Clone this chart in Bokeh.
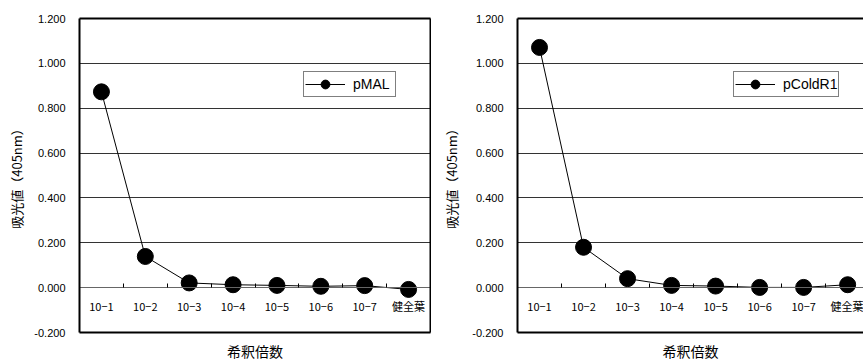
from bokeh.plotting import figure
from bokeh.models import FixedTicker, LinearAxis, Range1d, Legend, LegendItem
from bokeh.layouts import row
from bokeh.embed import file_html
from bokeh.resources import INLINE

categories = ["10−1", "10−2", "10−3", "10−4", "10−5", "10−6", "10−7", "健全葉"]
pmal = [0.873, 0.139, 0.021, 0.013, 0.010, 0.006, 0.009, -0.008]
pcoldr1 = [1.071, 0.180, 0.040, 0.010, 0.007, 0.001, 0.001, 0.013]
yticks = [-0.2, 0.0, 0.2, 0.4, 0.6, 0.8, 1.0, 1.2]
ytick_labels = ["-0.200", "0.000", "0.200", "0.400", "0.600", "0.800", "1.000", "1.200"]
y_title = "吸光値（405nm）"
x_title = "希釈倍数"

NUM_FONT = "Liberation Sans"
JP_FONT = "Noto Sans CJK JP"


def border_axis(label=None):
    ax = LinearAxis(ticker=FixedTicker(ticks=[]), axis_line_width=2, axis_line_color="black",
                    major_tick_in=0, major_tick_out=0, minor_tick_in=0, minor_tick_out=0,
                    major_label_text_font_size="0px", major_label_standoff=0)
    if label:
        ax.axis_label = label
        ax.axis_label_standoff = 8
        ax.axis_label_text_font = JP_FONT
        ax.axis_label_text_font_size = "14px"
        ax.axis_label_text_font_style = "normal"
        ax.axis_label_text_color = "black"
    return ax


def make(values, name, width, bl, br, x_end, legend_x, ystand, right_border):
    xs = list(range(1, len(categories) + 1))
    p = figure(width=width, height=363, x_range=Range1d(0.5, x_end),
               y_range=Range1d(yticks[0], yticks[-1]),
               output_backend="svg", toolbar_location=None,
               min_border_left=bl, min_border_right=br, min_border_top=18, min_border_bottom=30)
    p.outline_line_color = None

    yt = FixedTicker(ticks=yticks)
    ya = p.yaxis[0]
    ya.ticker = yt
    ya.major_label_overrides = dict(zip(yticks, ytick_labels))
    ya.major_tick_in = 0
    ya.major_tick_out = 0
    ya.minor_tick_in = 0
    ya.minor_tick_out = 0
    ya.major_label_standoff = 14
    ya.major_label_text_font = NUM_FONT
    ya.major_label_text_font_size = "11px"
    ya.major_label_text_color = "black"
    ya.axis_line_width = 2
    ya.axis_line_color = "black"
    ya.axis_label = y_title
    ya.axis_label_text_font = JP_FONT
    ya.axis_label_text_font_size = "13px"
    ya.axis_label_text_font_style = "normal"
    ya.axis_label_text_color = "black"
    ya.axis_label_standoff = ystand

    p.ygrid.ticker = yt
    p.ygrid.grid_line_color = "#333333"
    p.xgrid.visible = False

    xa = p.xaxis[0]
    xa.fixed_location = 0
    xa.ticker = FixedTicker(ticks=xs, minor_ticks=[x + 0.5 for x in xs[:-1]])
    xa.major_label_overrides = dict(zip(xs, categories))
    xa.major_tick_in = 0
    xa.major_tick_out = 0
    xa.minor_tick_in = 4
    xa.minor_tick_out = 0
    xa.minor_tick_line_color = "black"
    xa.axis_line_color = "#666666"
    xa.axis_line_width = 1
    xa.major_label_standoff = 10
    xa.major_label_text_font = JP_FONT
    xa.major_label_text_font_size = "11px"
    xa.major_label_text_color = "black"

    p.add_layout(border_axis(x_title), "below")
    p.add_layout(border_axis(), "above")
    if right_border:
        p.add_layout(border_axis(), "right")

    ln = p.line(xs, values, line_color="black", line_width=1)
    sc = p.scatter(xs, values, size=16, fill_color="black", line_color="black")

    legend = Legend(items=[LegendItem(label=name, renderers=[ln, sc])],
                    location=(legend_x, 235), padding=1, margin=0, spacing=0,
                    glyph_width=40, glyph_height=22, label_height=22, label_width=41,
                    label_standoff=8, label_text_font=NUM_FONT, label_text_font_size="14px",
                    label_text_color="black", border_line_color="black", border_line_width=1,
                    background_fill_color="white", background_fill_alpha=1.0)
    p.add_layout(legend, "center")
    return p


p1 = make(pmal, "pMAL", 431, 79, 1, len(categories) + 0.5, 224, 5, True)
p2 = make(pcoldr1, "pColdR1", 432, 86, 0, 8.36, 216, 8, False)

layout = row(p1, p2)
open("out.html", "w").write(file_html(layout, INLINE))
